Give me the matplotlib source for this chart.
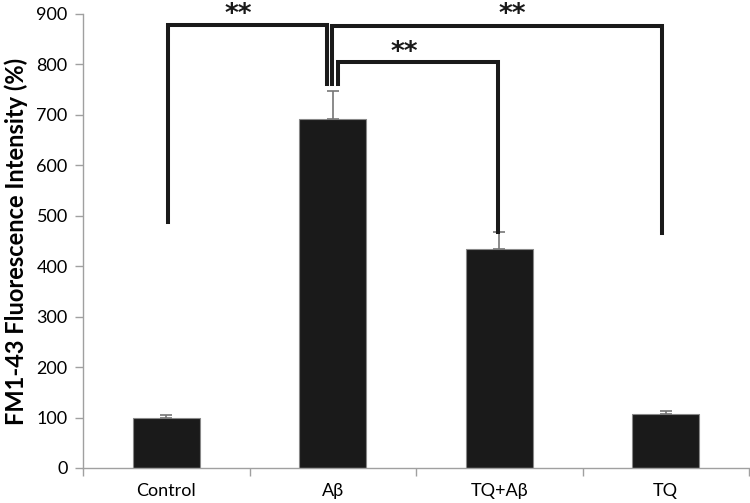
import numpy as np
import matplotlib
matplotlib.use('Agg')
import matplotlib.pyplot as plt

plt.rcParams['font.family'] = ['Lato', 'DejaVu Sans']

# data
groups = ['Control', 'A\u03b2', 'TQ+A\u03b2', 'TQ']
means = [100, 692, 434, 107]
errors = [5, 55, 34, 6]

# significance brackets: (x1, x2, y_left, y_right, y_top, label x, label y)
brackets = [
    (0.01, 0.965, 488, 761, 878, 0.43, 884),
    (0.995, 2.975, 761, 466, 876, 2.08, 884),
    (1.03, 1.995, 761, 468, 805, 1.43, 808),
]

fig = plt.figure(figsize=(7.5, 5.03), dpi=100)
ax = fig.add_axes([0.1107, 0.0696, 0.888, 0.9026])

idx = np.arange(len(groups))
ax.bar(idx, means, width=0.4, color='#1a1a1a', edgecolor='#888888', linewidth=0.8, zorder=2)
ax.errorbar(idx, means, yerr=[np.zeros(4), errors], fmt='none', ecolor='#777777',
            elinewidth=1.2, capsize=4, capthick=1.2, zorder=3)

for x1, x2, yl, yr, yt, tx, ty in brackets:
    ax.plot([x1, x1, x2, x2], [yl, yt, yt, yr], color='#1a1a1a', lw=2.9,
            solid_joinstyle='miter', clip_on=False, zorder=4)
    ax.text(tx, ty, '**', ha='center', va='baseline', fontsize=19, fontweight='bold',
            color='#1a1a1a', family='DejaVu Sans', clip_on=False)

ax.set_xlim(-0.5, 3.5)
ax.set_ylim(0, 900)
ax.set_yticks(range(0, 901, 100))
ax.set_xticks(idx)
ax.set_xticklabels(groups)
ax.set_xticks(np.arange(-0.5, 3.6, 1), minor=True)
ax.tick_params(axis='x', which='major', length=0, labelsize=13, pad=11)
ax.tick_params(axis='x', which='minor', length=6, color='#a0a0a0', width=1)
ax.tick_params(axis='y', length=6, color='#a0a0a0', width=1, labelsize=13, pad=5)

for s in ['top', 'right']:
    ax.spines[s].set_visible(False)
for s in ['left', 'bottom']:
    ax.spines[s].set_color('#a0a0a0')
    ax.spines[s].set_linewidth(1)

ax.set_ylabel('FM1-43 Fluorescence Intensity (%)', fontsize=17, fontweight='bold', labelpad=6)

fig.savefig('out.png', dpi=100)
